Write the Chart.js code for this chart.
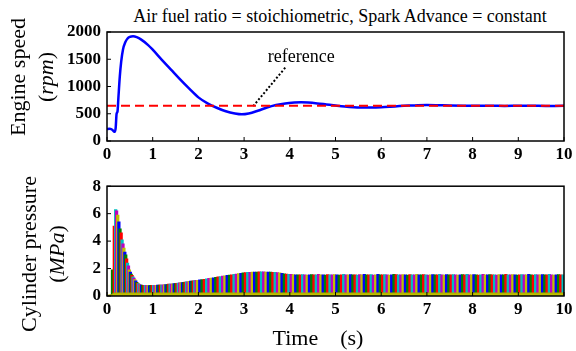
<!DOCTYPE html>
<html>
<head>
<meta charset="utf-8">
<script src="https://cdn.jsdelivr.net/npm/chart.js@4.4.1/dist/chart.umd.min.js"></script>
<style>
  html, body { margin: 0; padding: 0; background: #fff; }
  #wrap { position: relative; width: 576px; height: 351px; overflow: hidden; color: #000; }
  canvas { position: absolute; left: 0; }
  .lbl { position: absolute; white-space: pre; line-height: 1; font-size: 22px;
         font-family: 'Liberation Serif', 'Times New Roman', serif;
         transform: translate(-50%, -50%); }
  .rot { transform: translate(-50%, -50%) rotate(-90deg); }
</style>
</head>
<body>
<div id="wrap">
  <div class="lbl" style="left:340px; top:16px; font-size:18px;">Air fuel ratio = stoichiometric, Spark Advance = constant</div>
  <canvas id="speedChart" width="576" height="170" style="top:0"></canvas>
  <canvas id="pressureChart" width="576" height="181" style="top:170px"></canvas>
  <div class="lbl rot" style="left:18px; top:77px;">Engine speed</div>
  <div class="lbl rot" style="left:46px; top:77px;">(<i>rpm</i>)</div>
  <div class="lbl rot" style="left:29px; top:254px;">Cylinder pressure</div>
  <div class="lbl rot" style="left:57px; top:254px;">(<i>MPa</i>)</div>
  <div class="lbl" style="left:318px; top:338px;">Time    (s)</div>
</div>
<script>
// engine speed (rpm) vs time (s)
const speedTime = [0, 0.05, 0.1, 0.14, 0.17, 0.19, 0.21, 0.23, 0.25, 0.28, 0.31, 0.35, 0.4, 0.45, 0.5, 0.57,
    0.65, 0.75, 0.9, 1.0, 1.2, 1.4, 1.6, 1.8, 2.0, 2.2, 2.4, 2.6, 2.8, 2.95, 3.1, 3.3, 3.5, 3.7, 3.9, 4.1,
    4.25, 4.4, 4.6, 4.8, 5.0, 5.2, 5.4, 5.6, 5.8, 6.0, 6.2, 6.4, 6.6, 6.8, 7.0, 7.2, 7.5, 7.8, 8.1, 8.4,
    8.7, 9.0, 9.3, 9.6, 10];
const speedRpm = [220, 225, 215, 185, 170, 240, 500, 540, 800, 1180, 1450, 1680, 1810, 1880, 1910, 1920,
    1905, 1860, 1760, 1675, 1490, 1310, 1130, 960, 800, 690, 610, 545, 505, 490, 505, 555, 615, 660, 690, 705,
    710, 705, 690, 670, 650, 632, 620, 615, 613, 618, 628, 640, 650, 658, 660, 658, 652, 648, 645, 645,
    644, 645, 645, 644, 645];

// reference speed (red dashed)
const refTime = [0, 10];
const refRpm = [645, 645];

// dotted pointer from the "reference" note to the red line
const pointerTime = [3.9, 3.19];
const pointerRpm = [1345, 631];
const noteText = 'reference';
const noteTime = 4.25;
const noteRpm = 1545;

// cylinder pressure: one bar per firing (time s, peak MPa)
const cycleTime = [
    0.12, 0.16, 0.19, 0.21, 0.235, 0.26, 0.285, 0.31, 0.33, 0.35,
    0.37, 0.39, 0.41, 0.43, 0.45, 0.47, 0.49, 0.51, 0.53, 0.55,
    0.57, 0.59, 0.61, 0.63, 0.65, 0.67, 0.69, 0.71, 0.73, 0.75,
    0.78, 0.81, 0.84, 0.87, 0.90, 0.93, 0.96, 0.99, 1.02, 1.05,
    1.08, 1.11, 1.14, 1.17, 1.20, 1.23, 1.26, 1.29, 1.32, 1.35,
    1.38, 1.41, 1.44, 1.47, 1.50, 1.53, 1.56, 1.59, 1.62, 1.65,
    1.68, 1.71, 1.74, 1.77, 1.80, 1.83, 1.86, 1.89, 1.92, 1.95, 1.98,
    2.03, 2.08, 2.13, 2.18, 2.23, 2.28, 2.33, 2.38, 2.43, 2.48,
    2.53, 2.58, 2.63, 2.68, 2.73, 2.78, 2.83, 2.88, 2.93, 2.98,
    3.03, 3.08, 3.13, 3.18, 3.23, 3.28, 3.33, 3.38, 3.43, 3.48,
    3.53, 3.58, 3.63, 3.68, 3.73, 3.78, 3.83, 3.88, 3.93, 3.98,
    4.03, 4.08, 4.13, 4.18, 4.23, 4.28, 4.33, 4.38, 4.43, 4.48,
    4.53, 4.58, 4.63, 4.68, 4.73, 4.78, 4.83, 4.88, 4.93, 4.98,
    5.03, 5.08, 5.13, 5.18, 5.23, 5.28, 5.33, 5.38, 5.43, 5.48,
    5.53, 5.58, 5.63, 5.68, 5.73, 5.78, 5.83, 5.88, 5.93, 5.98,
    6.03, 6.08, 6.13, 6.18, 6.23, 6.28, 6.33, 6.38, 6.43, 6.48,
    6.53, 6.58, 6.63, 6.68, 6.73, 6.78, 6.83, 6.88, 6.93, 6.98,
    7.03, 7.08, 7.13, 7.18, 7.23, 7.28, 7.33, 7.38, 7.43, 7.48,
    7.53, 7.58, 7.63, 7.68, 7.73, 7.78, 7.83, 7.88, 7.93, 7.98,
    8.03, 8.08, 8.13, 8.18, 8.23, 8.28, 8.33, 8.38, 8.43, 8.48,
    8.53, 8.58, 8.63, 8.68, 8.73, 8.78, 8.83, 8.88, 8.93, 8.98,
    9.03, 9.08, 9.13, 9.18, 9.23, 9.28, 9.33, 9.38, 9.43, 9.48,
    9.53, 9.58, 9.63, 9.68, 9.73, 9.78, 9.83, 9.88, 9.93, 9.98
];
const cyclePeak = [
    1.9, 5.1, 6.3, 6.2, 5.9, 5.4, 4.9, 4.6, 4.1, 3.8,
    3.5, 3.2, 3.0, 2.7, 2.4, 2.2, 1.9, 1.75, 1.6, 1.5,
    1.4, 1.3, 1.2, 1.1, 1.0, 0.95, 0.9, 0.85, 0.82, 0.8,
    0.78, 0.77, 0.77, 0.77, 0.77, 0.76, 0.77, 0.78, 0.78, 0.77,
    0.78, 0.79, 0.79, 0.80, 0.80, 0.82, 0.82, 0.83, 0.84, 0.86,
    0.86, 0.87, 0.89, 0.90, 0.91, 0.93, 0.94, 0.96, 0.97, 0.98,
    1.00, 1.02, 1.03, 1.04, 1.06, 1.08, 1.09, 1.10, 1.12, 1.14, 1.15,
    1.17, 1.19, 1.22, 1.25, 1.28, 1.31, 1.33, 1.36, 1.39, 1.42,
    1.45, 1.47, 1.50, 1.52, 1.55, 1.57, 1.60, 1.63, 1.65, 1.68,
    1.70, 1.72, 1.73, 1.74, 1.75, 1.75, 1.76, 1.76, 1.76, 1.75,
    1.75, 1.74, 1.73, 1.72, 1.70, 1.68, 1.65, 1.62, 1.60, 1.58,
    1.57, 1.56, 1.55, 1.55, 1.54, 1.56, 1.55, 1.53, 1.55, 1.56,
    1.54, 1.55, 1.57, 1.54, 1.55, 1.53, 1.56, 1.55, 1.54, 1.56,
    1.55, 1.53, 1.55, 1.57, 1.54, 1.55, 1.56, 1.54, 1.55, 1.53,
    1.56, 1.55, 1.57, 1.54, 1.55, 1.56, 1.53, 1.55, 1.57, 1.55,
    1.54, 1.56, 1.55, 1.53, 1.55, 1.57, 1.56, 1.54, 1.55, 1.56,
    1.55, 1.53, 1.56, 1.55, 1.54, 1.57, 1.55, 1.54, 1.56, 1.55,
    1.53, 1.55, 1.56, 1.54, 1.55, 1.57, 1.55, 1.53, 1.56, 1.55,
    1.54, 1.56, 1.55, 1.53, 1.55, 1.56, 1.54, 1.57, 1.55, 1.54,
    1.56, 1.55, 1.53, 1.55, 1.57, 1.54, 1.55, 1.56, 1.54, 1.55,
    1.53, 1.56, 1.55, 1.54, 1.57, 1.55, 1.54, 1.56, 1.55, 1.53,
    1.55, 1.56, 1.54, 1.55, 1.57, 1.55, 1.53, 1.56, 1.55, 1.54,
    1.56, 1.55, 1.54, 1.57, 1.55, 1.53, 1.55, 1.56, 1.54, 1.55
];

// low compression/exhaust part of the traces along the bottom
const baseTime = [0, 0.1, 0.15, 10];
const basePressure = [0.05, 0.1, 0.22, 0.22];

const xTicks = [0, 1, 2, 3, 4, 5, 6, 7, 8, 9, 10];

const palette = ['#0000ff', '#008000', '#ff0000', '#00bfbf', '#bf00bf', '#bfbf00'];
const tickFont = { family: 'Liberation Serif', size: 17, weight: 'bold' };

const pts = (xs, ys) => xs.map((x, i) => ({ x: x, y: ys[i] }));

// box round the plot area plus short inward tick marks
const framePlugin = {
    id: 'frame',
    afterDatasetsDraw(chart) {
        const { ctx, chartArea: a, scales } = chart;
        ctx.save();
        ctx.strokeStyle = '#000';
        ctx.lineWidth = 1.5;
        ctx.strokeRect(a.left, a.top, a.right - a.left, a.bottom - a.top);
        ctx.lineWidth = 1;
        ctx.beginPath();
        scales.x.ticks.forEach(t => {
            const px = scales.x.getPixelForValue(t.value);
            ctx.moveTo(px, a.bottom);
            ctx.lineTo(px, a.bottom - 4);
        });
        scales.y.ticks.forEach(t => {
            const py = scales.y.getPixelForValue(t.value);
            ctx.moveTo(a.left, py);
            ctx.lineTo(a.left + 4, py);
        });
        ctx.stroke();
        ctx.restore();
    }
};

const notePlugin = {
    id: 'note',
    afterDatasetsDraw(chart) {
        const { ctx, scales } = chart;
        ctx.save();
        ctx.font = '18px "Liberation Serif"';
        ctx.fillStyle = '#000';
        ctx.textAlign = 'center';
        ctx.textBaseline = 'middle';
        ctx.fillText(noteText, scales.x.getPixelForValue(noteTime), scales.y.getPixelForValue(noteRpm));
        ctx.restore();
    }
};

const plainLabel = v => String(v);

const xScale = {
    type: 'linear', min: 0, max: 10, offset: false,
    grid: { display: false, drawTicks: false }, border: { display: false },
    afterBuildTicks: s => { s.ticks = xTicks.map(v => ({ value: v })); },
    ticks: { font: tickFont, color: '#000', padding: 3, maxRotation: 0, callback: plainLabel },
    afterFit: s => { s.height = 25; }
};

const speedChart = new Chart(document.getElementById('speedChart'), {
    type: 'line',
    data: {
        datasets: [
            {
                data: pts(refTime, refRpm),
                borderColor: '#ff0000', borderWidth: 2, borderDash: [9, 5],
                pointRadius: 0, order: 0
            },
            {
                data: pts(pointerTime, pointerRpm),
                borderColor: '#000', borderWidth: 2, borderDash: [2, 2],
                pointRadius: 0, order: 0
            },
            {
                data: pts(speedTime, speedRpm),
                borderColor: '#0000ff', borderWidth: 2.5,
                cubicInterpolationMode: 'monotone',
                pointRadius: 0, order: 1
            }
        ]
    },
    options: {
        responsive: false,
        animation: false,
        layout: { padding: { left: 57, right: 12, top: 32, bottom: 4 } },
        plugins: { legend: { display: false }, tooltip: { enabled: false } },
        scales: {
            x: xScale,
            y: {
                min: 0, max: 2000,
                grid: { display: false, drawTicks: false }, border: { display: false },
                ticks: { stepSize: 500, font: tickFont, color: '#000', padding: 6, callback: plainLabel },
                afterFit: s => { s.width = 50; }
            }
        }
    },
    plugins: [framePlugin, notePlugin]
});

const pressureChart = new Chart(document.getElementById('pressureChart'), {
    data: {
        datasets: [
            {
                type: 'line',
                data: pts(baseTime, basePressure),
                borderColor: '#a8a800', borderWidth: 1,
                backgroundColor: '#bfbf00', fill: 'origin',
                pointRadius: 0, order: 0
            },
            {
                type: 'bar',
                data: pts(cycleTime, cyclePeak),
                backgroundColor: c => palette[(c.dataIndex + 1) % palette.length],
                barThickness: 2.6, borderWidth: 0,
                order: 1
            }
        ]
    },
    options: {
        responsive: false,
        animation: false,
        layout: { padding: { left: 57, right: 12, top: 16, bottom: 30 } },
        plugins: { legend: { display: false }, tooltip: { enabled: false } },
        scales: {
            x: xScale,
            y: {
                min: 0, max: 8,
                grid: { display: false, drawTicks: false }, border: { display: false },
                ticks: { stepSize: 2, font: tickFont, color: '#000', padding: 6, callback: plainLabel },
                afterFit: s => { s.width = 50; }
            }
        }
    },
    plugins: [framePlugin]
});
</script>
</body>
</html>
